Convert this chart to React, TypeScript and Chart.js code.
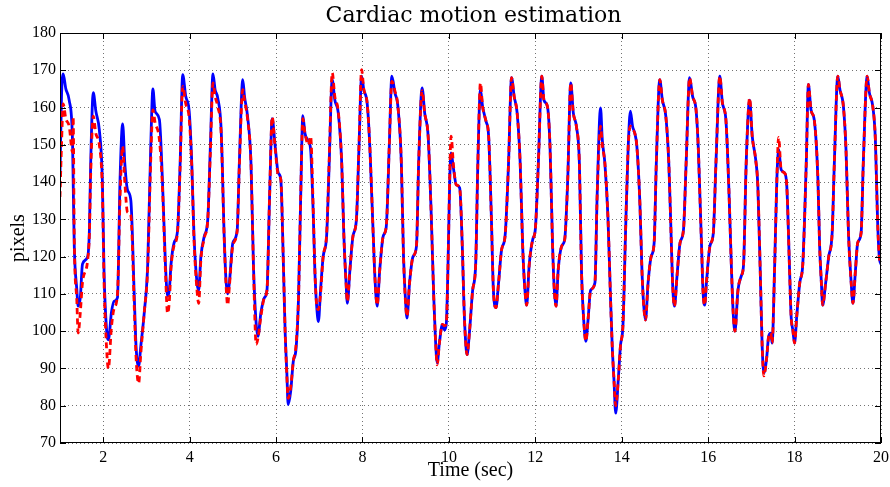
import { useEffect, useRef } from "react";
import { Chart, registerables } from "chart.js";

Chart.register(...registerables);

const chartTitle = "Cardiac motion estimation";
const xTitle = "Time (sec)";
const yTitle = "pixels";
const xTickValues = [2, 4, 6, 8, 10, 12, 14, 16, 18, 20];
const yTickValues = [70, 80, 90, 100, 110, 120, 130, 140, 150, 160, 170, 180];

// time (seconds)
const timeSec = [
  1.0, 1.035, 1.073, 1.135, 1.212, 1.29, 1.305, 1.33, 1.39, 1.42, 1.47, 1.52, 1.64, 1.68,
  1.71, 1.77, 1.83, 1.91, 1.98, 2.02, 2.08, 2.12, 2.19, 2.25, 2.33,
  2.39, 2.45, 2.5, 2.56, 2.64, 2.72, 2.76, 2.82, 2.87, 2.95, 3.03,
  3.1, 3.15, 3.2, 3.3, 3.37, 3.44, 3.49, 3.53, 3.57, 3.64, 3.72,
  3.78, 3.84, 3.91, 3.99, 4.05, 4.1, 4.17, 4.21, 4.26, 4.34, 4.42,
  4.48, 4.54, 4.59, 4.65, 4.73, 4.8, 4.84, 4.88, 4.92, 5.0, 5.1,
  5.15, 5.23, 5.27, 5.34, 5.42, 5.48, 5.54, 5.58, 5.65, 5.73, 5.79,
  5.85, 5.91, 5.98, 6.05, 6.11, 6.17, 6.21, 6.25, 6.28, 6.34, 6.4, 6.46, 6.52,
  6.57, 6.62, 6.67, 6.75, 6.8, 6.86, 6.9, 6.94, 6.98, 7.03, 7.09, 7.17,
  7.23, 7.3, 7.36, 7.44, 7.52, 7.57, 7.62, 7.65, 7.71, 7.78, 7.86,
  7.92, 7.98, 8.03, 8.11, 8.17, 8.25, 8.29, 8.34, 8.4, 8.48, 8.55,
  8.62, 8.68, 8.75, 8.82, 8.9, 8.95, 9.0, 9.03, 9.09, 9.17, 9.25,
  9.3, 9.38, 9.44, 9.52, 9.59, 9.65, 9.69, 9.73, 9.78, 9.85, 9.9, 9.94, 9.98,
  10.02, 10.05, 10.11, 10.17, 10.25, 10.31, 10.35, 10.38, 10.42, 10.48, 10.55, 10.62,
  10.67, 10.73, 10.78, 10.86, 10.92, 10.98, 11.03, 11.09, 11.15, 11.22, 11.3,
  11.38, 11.45, 11.51, 11.58, 11.65, 11.71, 11.76, 11.8, 11.86, 11.94, 12.0,
  12.07, 12.15, 12.2, 12.28, 12.34, 12.4, 12.44, 12.48, 12.53, 12.61, 12.68,
  12.75, 12.82, 12.88, 12.95, 13.02, 13.07, 13.12, 13.17, 13.22, 13.28, 13.38,
  13.43, 13.51, 13.55, 13.61, 13.68, 13.74, 13.78, 13.82, 13.86, 13.92, 13.97, 14.03,
  14.09, 14.15, 14.2, 14.25, 14.3, 14.35, 14.42, 14.47, 14.51, 14.55, 14.61, 14.68, 14.75,
  14.8, 14.88, 14.94, 15.02, 15.09, 15.15, 15.18, 15.22, 15.28, 15.35, 15.43,
  15.49, 15.57, 15.64, 15.72, 15.77, 15.81, 15.85, 15.88, 15.92, 15.96, 16.04, 16.12,
  16.18, 16.27, 16.33, 16.41, 16.48, 16.54, 16.58, 16.62, 16.69, 16.77, 16.82,
  16.88, 16.96, 17.02, 17.1, 17.15, 17.21, 17.25, 17.29, 17.35, 17.4, 17.45, 17.48,
  17.54, 17.59, 17.63, 17.69, 17.77, 17.82, 17.88, 17.92, 17.96, 18.0, 18.05, 18.12, 18.19,
  18.27, 18.32, 18.38, 18.46, 18.54, 18.58, 18.62, 18.65, 18.72, 18.79, 18.87,
  18.92, 19.0, 19.05, 19.13, 19.19, 19.25, 19.31, 19.35, 19.41, 19.46, 19.54,
  19.59, 19.68, 19.73, 19.81, 19.87, 19.92, 19.96, 20.0,
];

// blue solid curve (pixels)
const measuredPx = [
  142, 163, 169, 165, 162, 151, 140, 123, 111, 106.7, 109, 118, 120, 127,
  145, 164, 159, 154, 140.7, 115.6, 100, 97.7, 105, 108, 109,
  141, 155.6, 145, 138, 135, 109, 96, 90.6, 96, 105, 118,
  149.6, 165, 159, 156.8, 140.7, 118, 109.4, 111, 118, 123.7, 127,
  145, 168.8, 163, 159, 145, 126, 113, 111, 120, 125.5, 130,
  149.6, 169, 164.8, 162.6, 154, 125.5, 114, 110, 113, 123.7, 127,
  145, 167.5, 163, 157.7, 145, 116.5, 102, 98.6, 105, 109, 111,
  136, 157, 149.6, 142.5, 140.7, 118, 100, 88.8, 80.3, 84, 92, 95, 109,
  136, 157.8, 153, 151, 148.7, 131.7, 115.6, 106.7, 102.6, 111, 120, 125.5,
  145, 167.5, 162, 158.5, 145, 125.5, 113, 107.5, 116.5, 125.5, 130,
  149.6, 168.4, 164.8, 161, 149.6, 125.5, 114, 106.7, 116.5, 125.5, 128,
  149.6, 168.4, 164, 160.3, 145, 120, 107.5, 103.5, 113, 120, 122.8,
  145, 165.3, 158.5, 152.3, 131.7, 109, 97.7, 91.5, 96.8, 101.8, 100.3, 102, 118,
  140.7, 147.8, 143.3, 139.3, 138.4, 122.8, 106.7, 98.6, 93.7, 100.3, 111, 118,
  145, 164.8, 160.3, 156.3, 152.3, 131.7, 111, 106.3, 113, 121.9, 125.5,
  145, 168, 163, 158.5, 145, 121.9, 111, 107, 118, 124.6, 127.3,
  145, 168.4, 162, 160.3, 149.6, 122.8, 111, 106.7, 116.5, 122.8, 124.6,
  140.7, 166.6, 158.5, 155, 145, 115.6, 103, 97.3, 103, 111, 113,
  136, 159.9, 151.4, 145, 130.8, 109, 96, 87, 78, 87, 96, 102,
  127.3, 149.6, 159, 155, 153.2, 149.6, 134.4, 115.6, 106.7, 103, 113, 120, 123.7,
  145, 167.5, 162, 157.7, 145, 122.8, 112, 106.7, 114.9, 123.7, 127.3,
  145, 168, 163, 159.4, 149.6, 136, 121.9, 111, 107, 113, 122.8, 126.4,
  145, 168.4, 161.2, 156.8, 138, 116.5, 104.8, 100, 111, 114.9, 118,
  145, 162, 152.3, 146, 138.9, 114, 96, 88.8, 92.4, 98.6, 99.5, 96.8,
  118, 140.7, 148.7, 143.3, 142.4, 138.9, 118, 104, 100.3, 96.8, 104, 113, 118,
  145, 166.2, 159.4, 156.3, 140.7, 122.8, 113, 107, 113, 120, 126.4,
  145, 168.4, 164.8, 160.3, 148.7, 125.5, 113, 107.5, 116.5, 123.7, 126.4,
  145, 168.4, 164, 160.3, 151.4, 130, 120, 118,
];

// red dashed curve (pixels)
const estimatedPx = [
  136, 150, 161, 157, 155, 148, 157.5, 125, 108, 99.5, 105, 113, 119, 126,
  142, 157.7, 153, 150, 138, 113, 95, 90, 101, 106, 110,
  136, 149.6, 140, 132, 131, 106, 93, 86, 94, 105, 117,
  146, 159.4, 156, 151.4, 139, 116, 104.8, 108, 117, 123, 126.5,
  144, 165.7, 161, 157, 144, 125, 111, 107.5, 119, 125, 130,
  148, 166.6, 163, 160.3, 153, 125, 113, 107, 112, 123, 127,
  144, 164.8, 162, 157, 145, 116, 96.5, 98, 104, 109, 111,
  136, 157.5, 149, 142, 140.7, 118, 100, 88, 82, 85, 92, 96, 109,
  136, 157, 153, 150, 152.3, 133, 116, 107, 105.8, 110, 120, 126,
  146, 169.3, 163, 159, 145, 125.5, 113, 108, 116.5, 125.5, 130,
  150, 170.2, 165, 161, 149.6, 125.5, 114, 107, 116.5, 125.5, 128,
  149.6, 167, 164.5, 160.3, 145, 120, 107, 104, 113, 120, 123,
  145, 164.5, 158.5, 152.3, 131.7, 109, 97.7, 91, 96.8, 101.8, 101.5, 102, 118,
  142, 152.3, 144, 139.3, 138.4, 122.8, 106.7, 98.6, 93.7, 100.3, 111, 118,
  145, 166.6, 160.3, 156.3, 152.3, 131.7, 111, 106.3, 113, 121.9, 125.5,
  145, 168, 163, 158.5, 145, 121.9, 111, 107, 118, 124.6, 127.3,
  145, 168.4, 162, 160.3, 149.6, 122.8, 111, 106.7, 116.5, 122.8, 124.6,
  140.7, 166.6, 158.5, 155, 145, 115.6, 103, 97.3, 103, 111, 113,
  136, 155, 150, 145, 130.8, 109, 96, 87, 80, 87, 96, 102,
  127.3, 149.6, 155, 154, 153.2, 149.6, 134.4, 115.6, 106.7, 103, 113, 120, 123.7,
  145, 167.5, 162, 157.7, 145, 122.8, 112, 106.7, 114.9, 123.7, 127.3,
  145, 168, 163, 159.4, 149.6, 136, 121.9, 111, 107, 113, 122.8, 126.4,
  145, 168.4, 161.2, 156.8, 138, 116.5, 104.8, 100, 111, 114.9, 118,
  145, 162.5, 152.3, 146, 138.9, 114, 96, 88, 92.4, 98.6, 99.5, 96.8,
  118, 140.7, 152, 143.3, 142.4, 138.9, 118, 104, 100.3, 96.8, 104, 113, 118,
  145, 166.2, 159.4, 156.3, 140.7, 122.8, 113, 107, 113, 120, 126.4,
  145, 168.4, 164.8, 160.3, 148.7, 125.5, 113, 107.5, 116.5, 123.7, 126.4,
  145, 168.4, 164, 160.3, 151.4, 130, 120, 118,
];

const serif = '"Liberation Serif", "Times New Roman", serif';

const framePlugin = {
  id: "matlabFrame",
  afterDraw(chart: any) {
    const { ctx, chartArea: a, scales } = chart;
    ctx.save();
    ctx.strokeStyle = "#000";
    ctx.lineWidth = 1;
    ctx.setLineDash([]);
    ctx.strokeRect(a.left + 0.5, a.top + 0.5, a.right - a.left - 1, a.bottom - a.top - 1);
    const tl = 6;
    ctx.beginPath();
    xTickValues.forEach((v) => {
      const px = Math.round(scales.x.getPixelForValue(v)) + 0.5;
      ctx.moveTo(px, a.bottom);
      ctx.lineTo(px, a.bottom - tl);
      ctx.moveTo(px, a.top);
      ctx.lineTo(px, a.top + tl);
    });
    yTickValues.forEach((v) => {
      const py = Math.round(scales.y.getPixelForValue(v)) + 0.5;
      ctx.moveTo(a.left, py);
      ctx.lineTo(a.left + tl, py);
      ctx.moveTo(a.right, py);
      ctx.lineTo(a.right - tl, py);
    });
    ctx.stroke();

    ctx.fillStyle = "#000";
    ctx.textAlign = "center";
    ctx.textBaseline = "middle";
    const cx = (a.left + a.right) / 2;
    ctx.font = '22px "DejaVu Serif", serif';
    ctx.fillText(chartTitle, cx + 3, 16);
    ctx.font = "20px " + serif;
    ctx.fillText(xTitle, cx, 471);
    ctx.translate(19, (a.top + a.bottom) / 2);
    ctx.rotate(-Math.PI / 2);
    ctx.fillText(yTitle, 0, 0);
    ctx.restore();
  },
};

export default function App() {
  const canvasRef = useRef<HTMLCanvasElement | null>(null);

  useEffect(() => {
    const canvas = canvasRef.current;
    if (!canvas) return;
    const lineCommon = {
      pointRadius: 0,
      borderWidth: 2.8,
      fill: false,
      cubicInterpolationMode: "monotone" as const,
      borderJoinStyle: "round" as const,
      borderCapStyle: "round" as const,
    };
    const chart = new Chart(canvas, {
      type: "line",
      data: {
        datasets: [
          {
            ...lineCommon,
            label: "estimate",
            data: timeSec.map((t, i) => ({ x: t, y: estimatedPx[i] })),
            borderColor: "#ff0000",
            borderDash: [6, 4],
            borderCapStyle: "butt" as const,
            order: 0,
          },
          {
            ...lineCommon,
            label: "measured",
            data: timeSec.map((t, i) => ({ x: t, y: measuredPx[i] })),
            borderColor: "#0000ff",
            order: 1,
          },
        ],
      },
      options: {
        responsive: false,
        animation: false,
        layout: { padding: { top: 33, right: 9, left: 0, bottom: 0 } },
        plugins: {
          legend: { display: false },
          title: { display: false },
          tooltip: { enabled: false },
        },
        scales: {
          x: {
            type: "linear",
            min: 1,
            max: 20,
            afterBuildTicks: (scale: any) => {
              scale.ticks = xTickValues.map((v) => ({ value: v }));
            },
            afterFit: (scale: any) => {
              scale.height = 44;
              scale.paddingLeft = 0;
              scale.paddingRight = 0;
            },
            ticks: {
              autoSkip: false,
              maxRotation: 0,
              padding: 5,
              color: "#000",
              font: { family: serif, size: 16 },
            },
            grid: {
              color: "rgba(0,0,0,0.55)",
              lineWidth: 1,
              drawTicks: false,
            },
            border: { display: false, dash: [1, 3] },
          },
          y: {
            type: "linear",
            min: 70,
            max: 180,
            afterBuildTicks: (scale: any) => {
              scale.ticks = yTickValues.map((v) => ({ value: v }));
            },
            afterFit: (scale: any) => {
              scale.width = 60;
              scale.paddingTop = 0;
              scale.paddingBottom = 0;
            },
            ticks: {
              autoSkip: false,
              padding: 4,
              color: "#000",
              font: { family: serif, size: 16 },
            },
            grid: {
              color: "rgba(0,0,0,0.55)",
              lineWidth: 1,
              drawTicks: false,
            },
            border: { display: false, dash: [1, 3] },
          },
        },
      },
      plugins: [framePlugin],
    });
    return () => chart.destroy();
  }, []);

  return (
    <div style={{ position: "fixed", left: 0, top: 0, width: 890, height: 487, background: "#fff" }}>
      <canvas ref={canvasRef} width={890} height={487} />
    </div>
  );
}
